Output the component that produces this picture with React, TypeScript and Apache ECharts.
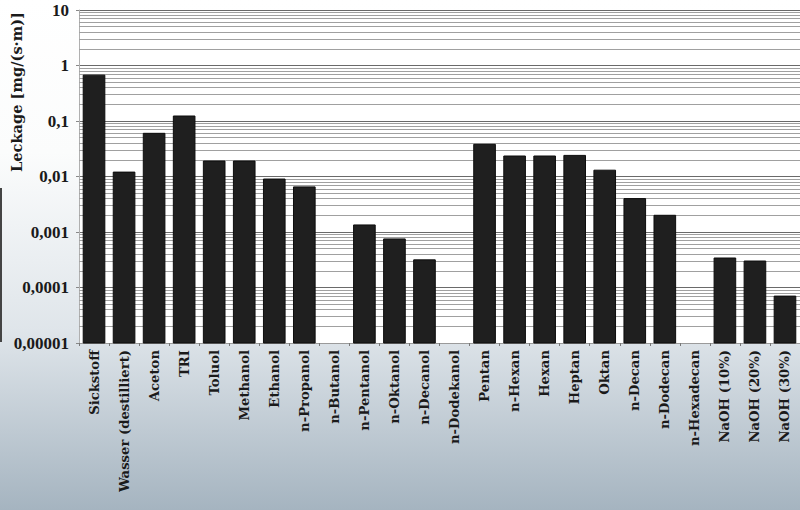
import { useEffect, useRef } from "react";
import * as echarts from "echarts";

const categories = [
  "Sickstoff",
  "Wasser (destilliert)",
  "Aceton",
  "TRI",
  "Toluol",
  "Methanol",
  "Ethanol",
  "n-Propanol",
  "n-Butanol",
  "n-Pentanol",
  "n-Oktanol",
  "n-Decanol",
  "n-Dodekanol",
  "Pentan",
  "n-Hexan",
  "Hexan",
  "Heptan",
  "Oktan",
  "n-Decan",
  "n-Dodecan",
  "n-Hexadecan",
  "NaOH (10%)",
  "NaOH (20%)",
  "NaOH (30%)"
];

// Leckage in mg/(s·m); null = no bar drawn
const leakValues: (number | null)[] = [
  0.67, 0.012, 0.06, 0.123, 0.019, 0.019, 0.009, 0.0065, null, 0.00134,
  0.00075, 0.000315, null, 0.038, 0.0234, 0.0234, 0.024, 0.013, 0.004, 0.002,
  null, 0.00034, 0.0003, 0.00007
];

const yMin = 0.00001;
const yMax = 10;
const yTickLabels = ["0,00001", "0,0001", "0,001", "0,01", "0,1", "1", "10"];
const decades = [0.00001, 0.0001, 0.001, 0.01, 0.1, 1];
const minorSteps = [2, 3, 4, 5, 6, 7, 8, 9];

const serif = "'Liberation Serif', 'DejaVu Serif', serif";
const wideSerif = "'DejaVu Serif', 'Liberation Serif', serif";

export default function App(): JSX.Element {
  const rootRef = useRef<HTMLDivElement | null>(null);

  useEffect(() => {
    if (!rootRef.current) return undefined;
    const chart = echarts.init(rootRef.current, undefined, { renderer: "svg" });

    const barData = leakValues
      .map((v, i) => (v == null ? null : [i, v]))
      .filter(d => d !== null) as number[][];

    const minorLines: { yAxis: number }[] = [];
    for (const d of decades) {
      for (const k of minorSteps) {
        minorLines.push({ yAxis: k * d });
      }
    }

    const option: echarts.EChartsOption = {
      animation: false,
      backgroundColor: new echarts.graphic.LinearGradient(0, 0, 0, 1, [
        { offset: 0, color: "#ffffff" },
        { offset: 0.3, color: "#fbfcfc" },
        { offset: 0.65, color: "#dfe5ea" },
        { offset: 1, color: "#a5b4c0" }
      ]),
      grid: {
        left: 79,
        top: 10,
        right: -4,
        bottom: 167,
        show: true,
        backgroundColor: "#ffffff",
        borderWidth: 0
      },
      xAxis: {
        type: "category",
        data: categories,
        boundaryGap: true,
        axisLine: { lineStyle: { color: "#9a9a9a", width: 1 } },
        axisTick: { show: true, interval: 0, length: 3, lineStyle: { color: "#777" } },
        axisLabel: {
          interval: 0,
          rotate: 90,
          margin: 7,
          color: "#1a1a1a",
          fontFamily: wideSerif,
          fontSize: 13.2,
          fontWeight: "bold"
        }
      },
      yAxis: {
        type: "log",
        logBase: 10,
        min: yMin,
        max: yMax,
        axisLine: { show: true, lineStyle: { color: "#b0b0b0", width: 1 } },
        axisTick: { show: true, length: 3, lineStyle: { color: "#888" } },
        splitLine: { show: true, lineStyle: { color: "#6a6a6a", width: 1 } },
        axisLabel: {
          margin: 10,
          color: "#1a1a1a",
          fontFamily: serif,
          fontSize: 17,
          fontWeight: "bold",
          formatter: (value: number) => {
            const e = Math.round(Math.log10(value));
            return yTickLabels[e + 5] ?? "";
          }
        }
      },
      graphic: [
        {
          type: "text",
          x: 16,
          y: 92,
          rotation: Math.PI / 2,
          style: {
            text: "Leckage [mg/(s·m)]",
            fontFamily: wideSerif,
            fontSize: 14.6,
            fontWeight: "bold",
            fill: "#1a1a1a",
            textAlign: "center",
            textVerticalAlign: "middle"
          }
        },
        {
          type: "line",
          shape: { x1: 1, y1: 188, x2: 1, y2: 342 },
          style: { stroke: "#444", lineWidth: 2 }
        }
      ],
      series: [
        {
          type: "custom",
          name: "Leckage",
          z: 3,
          data: barData,
          renderItem: (params: any, api: any) => {
            const idx = api.value(0);
            const top = api.coord([idx, api.value(1)]);
            const bottom = api.coord([idx, yMin]);
            const band = api.size([1, 0])[0];
            const w = band * 0.72;
            return {
              type: "rect",
              shape: {
                x: top[0] - w / 2,
                y: top[1],
                width: w,
                height: bottom[1] - top[1]
              },
              style: { fill: "#1f1f1f", stroke: "#0d0d0d", lineWidth: 1 }
            };
          },
          markLine: {
            z: 1,
            silent: true,
            precision: 10,
            symbol: "none",
            label: { show: false },
            lineStyle: { color: "#a0a0a0", width: 1, type: "solid" },
            data: minorLines
          }
        }
      ]
    };

    chart.setOption(option);
    return () => chart.dispose();
  }, []);

  return (
    <div
      ref={rootRef}
      style={{ position: "fixed", left: 0, top: 0, width: 800, height: 510 }}
    />
  );
}
